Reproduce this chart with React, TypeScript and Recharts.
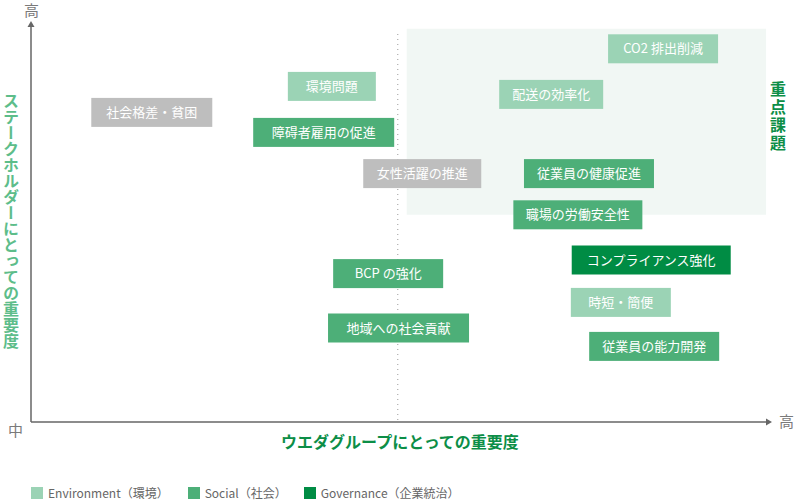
import React from 'react';
import {
  ScatterChart,
  Scatter,
  XAxis,
  YAxis,
  ReferenceArea,
  ReferenceLine,
  ReferenceDot,
  Legend,
} from 'recharts';

// ---- Data (importance scores, 0–10 on each axis) ----
const environmentLabels = ['環境問題', 'CO2 排出削減', '配送の効率化', '時短・簡便'];
const environmentGroup = [4.06, 8.53, 7.02, 7.96]; // ウエダグループにとっての重要度
const environmentStake = [8.39, 9.33, 8.19, 2.99]; // ステークホルダーにとっての重要度

const socialLabels = [
  '障碍者雇用の促進',
  '従業員の健康促進',
  '職場の労働安全性',
  'BCP の強化',
  '地域への社会貢献',
  '従業員の能力開発',
];
const socialGroup = [3.95, 7.53, 7.38, 4.82, 4.96, 8.41];
const socialStake = [7.24, 6.21, 5.18, 3.71, 2.35, 1.89];

const governanceLabels = ['コンプライアンス強化'];
const governanceGroup = [8.37];
const governanceStake = [4.05];

const otherLabels = ['社会格差・貧困', '女性活躍の推進'];
const otherGroup = [1.63, 5.28];
const otherStake = [7.74, 6.21];

// Priority zone (重点課題) and midpoint divider
const priorityX = [5.07, 9.92];
const priorityY = [5.18, 9.83];
const midX = 4.95;

const seriesNames = ['Environment（環境）', 'Social（社会）', 'Governance（企業統治）'];

const build = (labels: string[], xs: number[], ys: number[]) =>
  labels.map((label, i) => ({ label, x: xs[i], y: ys[i] }));

const environmentData = build(environmentLabels, environmentGroup, environmentStake);
const socialData = build(socialLabels, socialGroup, socialStake);
const governanceData = build(governanceLabels, governanceGroup, governanceStake);
const otherData = build(otherLabels, otherGroup, otherStake);

// ---- Styles ----
const FONT = '"Noto Sans CJK JP", "Noto Sans", sans-serif';
const COLORS = {
  env: '#9bd3b5',
  social: '#4daf78',
  gov: '#008c44',
  other: '#bebebe',
  zone: '#f1f7f4',
  axis: '#666666',
  grayText: '#7a7a7a',
  stakeLabel: '#5dbd8a',
  groupLabel: '#0c8e47',
};
const BOX_W: Record<string, number> = {
  '環境問題': 88,
  'CO2 排出削減': 110,
  '配送の効率化': 104,
  '時短・簡便': 100,
  '障碍者雇用の促進': 141,
  '従業員の健康促進': 130,
  '職場の労働安全性': 129,
  'BCP の強化': 110,
  '地域への社会貢献': 141,
  '従業員の能力開発': 130,
  'コンプライアンス強化': 159,
  '社会格差・貧困': 121,
  '女性活躍の推進': 118,
};
const BOX_H = 29;

const makeBox = (fill: string) => (props: any) => {
  const { cx, cy, payload } = props;
  if (cx == null || cy == null) return <g />;
  const label = payload.label as string;
  const w = BOX_W[label] ?? label.length * 13 + 28;
  return (
    <g>
      <rect x={cx - w / 2} y={cy - BOX_H / 2} width={w} height={BOX_H} fill={fill} />
      <text
        x={cx}
        y={cy}
        dy="0.36em"
        textAnchor="middle"
        fill="#ffffff"
        fontSize={13}
        fontFamily={FONT}
      >
        {label}
      </text>
    </g>
  );
};

const ArrowUp = (props: any) => {
  const { cx, cy } = props;
  return <polygon points={`${cx},${cy - 1} ${cx - 3.5},${cy + 5} ${cx + 3.5},${cy + 5}`} fill={COLORS.axis} />;
};
const ArrowRight = (props: any) => {
  const { cx, cy } = props;
  return <polygon points={`${cx},${cy} ${cx - 6},${cy - 3.5} ${cx - 6},${cy + 3.5}`} fill={COLORS.axis} />;
};

const renderLegend = (props: any) => {
  const payload = ((props.payload || []) as any[])
    .filter((e) => seriesNames.indexOf(e.value) >= 0)
    .sort((a, b) => seriesNames.indexOf(a.value) - seriesNames.indexOf(b.value));
  const gaps = [0, 19, 17];
  return (
    <div style={{ display: 'flex', alignItems: 'center', fontFamily: FONT }}>
      {payload.map((entry: any, i: number) => (
        <div
          key={entry.value}
          style={{ display: 'flex', alignItems: 'center', marginLeft: gaps[i] ?? 0 }}
        >
          <span
            style={{
              display: 'inline-block',
              width: 12,
              height: 12,
              background: entry.color,
              marginRight: 5,
            }}
          />
          <span style={{ fontSize: 12, color: '#666666', lineHeight: '12px' }}>{entry.value}</span>
        </div>
      ))}
    </div>
  );
};

export default function App() {
  return (
    <div
      style={{
        position: 'absolute',
        left: 0,
        top: 0,
        width: 796,
        height: 500,
        background: '#ffffff',
        fontFamily: FONT,
      }}
    >
      <ScatterChart
        width={796}
        height={500}
        margin={{ top: 22, right: 24, bottom: 78, left: 31 }}
      >
        <XAxis type="number" dataKey="x" domain={[0, 10]} hide />
        <YAxis type="number" dataKey="y" domain={[0, 10]} hide />
        <ReferenceArea
          x1={priorityX[0]}
          x2={priorityX[1]}
          y1={priorityY[0]}
          y2={priorityY[1]}
          fill={COLORS.zone}
          fillOpacity={1}
          stroke="none"
          ifOverflow="visible"
        />
        <ReferenceLine
          segment={[
            { x: midX, y: 0.05 },
            { x: midX, y: 9.8 },
          ]}
          stroke="#9a9a9a"
          strokeWidth={1}
          strokeDasharray="1 4"
          ifOverflow="visible"
        />
        <ReferenceLine
          segment={[
            { x: 0, y: 0 },
            { x: 0, y: 9.9 },
          ]}
          stroke={COLORS.axis}
          strokeWidth={1.5}
          ifOverflow="visible"
        />
        <ReferenceLine
          segment={[
            { x: 0, y: 0 },
            { x: 9.95, y: 0 },
          ]}
          stroke={COLORS.axis}
          strokeWidth={1.5}
          ifOverflow="visible"
        />
        <ReferenceDot x={0} y={10} r={0} shape={ArrowUp} ifOverflow="visible" />
        <ReferenceDot x={10} y={0} r={0} shape={ArrowRight} ifOverflow="visible" />
        <Scatter
          name="other"
          data={otherData}
          fill={COLORS.other}
          legendType="none"
          shape={makeBox(COLORS.other)}
          isAnimationActive={false}
        />
        <Scatter
          name={seriesNames[0]}
          data={environmentData}
          fill={COLORS.env}
          legendType="square"
          shape={makeBox(COLORS.env)}
          isAnimationActive={false}
        />
        <Scatter
          name={seriesNames[1]}
          data={socialData}
          fill={COLORS.social}
          legendType="square"
          shape={makeBox(COLORS.social)}
          isAnimationActive={false}
        />
        <Scatter
          name={seriesNames[2]}
          data={governanceData}
          fill={COLORS.gov}
          legendType="square"
          shape={makeBox(COLORS.gov)}
          isAnimationActive={false}
        />
        <Legend
          layout="horizontal"
          verticalAlign="middle"
          align="center"
          content={renderLegend}
          wrapperStyle={{ position: 'absolute', left: 31, top: 487, width: 'auto', height: 12 }}
        />
      </ScatterChart>

      {/* Axis end labels */}
      <div style={{ position: 'absolute', left: 24, top: 1, fontSize: 15, color: COLORS.grayText, lineHeight: '18px' }}>
        高
      </div>
      <div style={{ position: 'absolute', left: 8, top: 421, fontSize: 15, color: COLORS.grayText, lineHeight: '18px' }}>
        中
      </div>
      <div style={{ position: 'absolute', left: 779, top: 412, fontSize: 15, color: COLORS.grayText, lineHeight: '18px' }}>
        高
      </div>

      {/* Axis titles */}
      <div
        style={{
          position: 'absolute',
          left: 2,
          top: 93,
          writingMode: 'vertical-rl',
          fontSize: 16,
          lineHeight: '17px',
          fontWeight: 700,
          color: COLORS.stakeLabel,
        }}
      >
        ステークホルダーにとっての重要度
      </div>
      <div
        style={{
          position: 'absolute',
          left: 0,
          width: 800,
          top: 431,
          textAlign: 'center',
          fontSize: 16,
          lineHeight: '20px',
          fontWeight: 700,
          color: COLORS.groupLabel,
        }}
      >
        ウエダグループにとっての重要度
      </div>
      <div
        style={{
          position: 'absolute',
          left: 769,
          top: 81,
          writingMode: 'vertical-rl',
          fontSize: 16,
          lineHeight: '18px',
          letterSpacing: 2,
          fontWeight: 700,
          color: COLORS.groupLabel,
        }}
      >
        重点課題
      </div>
    </div>
  );
}
